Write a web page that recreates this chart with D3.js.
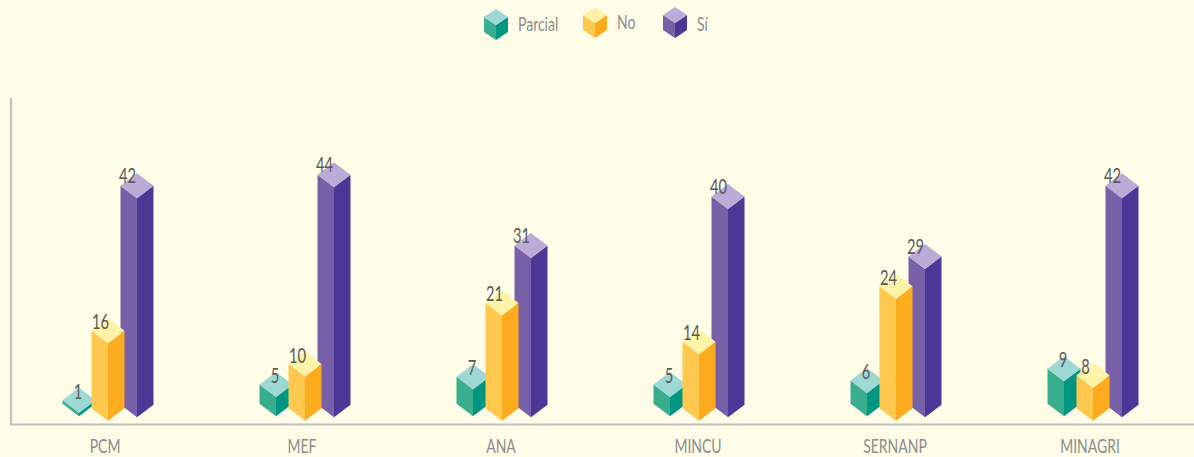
<!DOCTYPE html>
<html><head><meta charset="utf-8">
<script src="https://cdn.jsdelivr.net/npm/d3@7/dist/d3.min.js"></script>
<style>html,body{margin:0;padding:0;background:#fffce8;overflow:hidden}svg{display:block}text{font-family:Lato,"Noto Sans",sans-serif}</style>
</head><body><div id="c"></div>
<script>
const categories=["PCM","MEF","ANA","MINCU","SERNANP","MINAGRI"];
const seriesNames=["Parcial","No","Sí"];
const parcial=[1,5,7,5,6,9];
const no=[16,10,21,14,24,8];
const si=[42,44,31,40,29,42];

const W=1194,H=457;
const svg=d3.select("#c").append("svg").attr("width",W).attr("height",H);
svg.append("rect").attr("width",W).attr("height",H).attr("fill","#fffce8");
const x=d3.scalePoint().domain(categories).range([108,1093]);
const sub=d3.scalePoint().domain(seriesNames).range([-29,29]);
const style={
 "Parcial":{top:"#9dd8d5",left:"#38ae8e",right:"#009681",base:416.3,h:d3.scaleLinear().domain([1,9]).range([3.5,35]),lx:-1,ly:11,vals:parcial},
 "No":{top:"#fff3a8",left:"#ffc94f",right:"#fdac20",base:420.7,h:d3.scaleLinear().domain([8,24]).range([33,122]),lx:-7.5,ly:11,vals:no},
 "Sí":{top:"#bcabd6",left:"#7860a8",right:"#4b3795",base:417.3,h:d3.scaleLinear().domain([29,44]).range([148.3,230]),lx:-9.5,ly:10,vals:si}
};
const hw=16.5,hd=12.5,squeeze=0.7;
function cube(g,cx,base,h,s,w,d){
 const ft=base-h;
 const poly=(pts,fill)=>g.append("polygon").attr("points",pts.map(p=>p.join(",")).join(" ")).attr("fill",fill);
 poly([[cx-w,ft-d],[cx,ft],[cx,base],[cx-w,base-d]],s.left);
 poly([[cx+w,ft-d],[cx,ft],[cx,base],[cx+w,base-d]],s.right);
 poly([[cx,ft-2*d],[cx+w,ft-d],[cx,ft],[cx-w,ft-d]],s.top);
}
function label(g,tx,ty,str,size,fill,anchor){
 return g.append("text").attr("transform",`translate(${tx},${ty}) scale(${squeeze},1)`)
  .attr("text-anchor",anchor).attr("font-size",size).attr("fill",fill).text(str);
}
svg.append("path").attr("d",`M11,98V424.5H${W}`).attr("fill","none").attr("stroke","#c0c0bc").attr("stroke-width",2.2);
["Sí","Parcial","No"].forEach(n=>{
 const s=style[n];
 const g=svg.append("g");
 categories.forEach((c,i)=>cube(g,x(c)+sub(n),s.base,s.h(s.vals[i]),s,hw,hd));
});
const vg=svg.append("g");
seriesNames.forEach(n=>{
 const s=style[n];
 categories.forEach((c,i)=>label(vg,x(c)+sub(n)+s.lx,s.base-s.h(s.vals[i])-2*hd+s.ly,s.vals[i],21,"#5a5a5a","middle"));
});
const labelX=[105,302,501,698,895,1090];
const cg=svg.append("g");
categories.forEach((c,i)=>label(cg,labelX[i],452.5,c,20,"#8c8c8c","middle"));
const legendCube=[496,595,675],legendBase=[40,38,38],legendText=[518,617,697],legendY=[31,29,31];
const lg=svg.append("g");
seriesNames.forEach((n,i)=>{
 cube(lg,legendCube[i],legendBase[i],15,style[n],12,8);
 label(lg,legendText[i],legendY[i],n,20,"#8c8c8c","start");
});
</script></body></html>
